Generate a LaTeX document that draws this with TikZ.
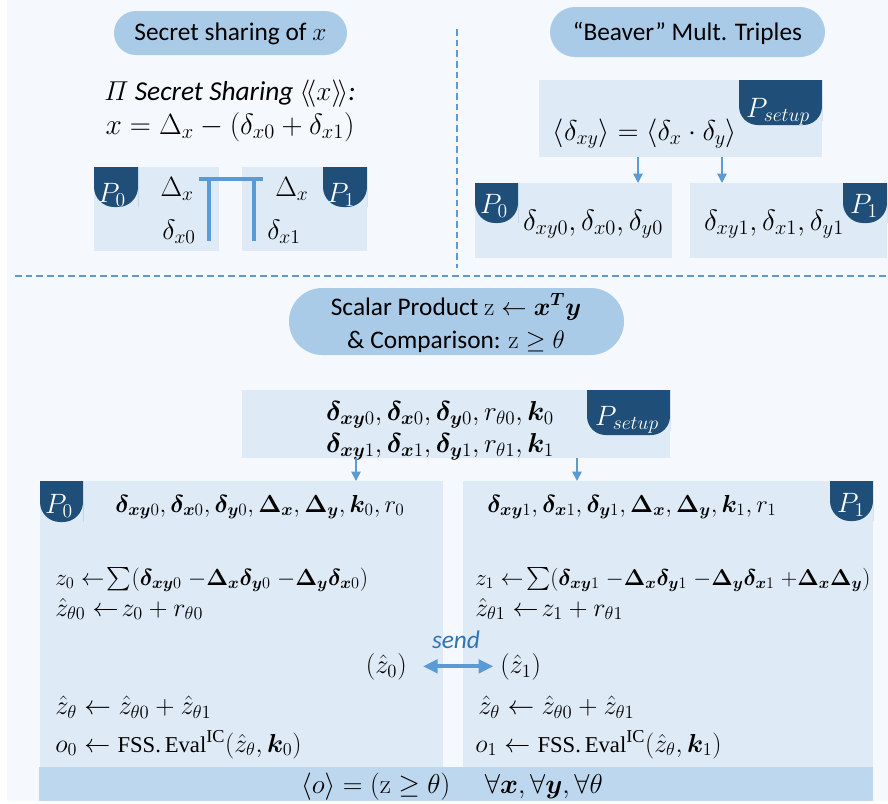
\documentclass[tikz,border=0pt]{standalone}
\usepackage{fix-cm}
\usepackage{amsmath,amssymb}
\usepackage{bm}
\usepackage[no-math]{fontspec}
\setmainfont{Carlito}
\newfontfamily\lserif{Liberation Serif}
\usetikzlibrary{arrows.meta}
\definecolor{bgc}{HTML}{F5F9FD}
\definecolor{pillc}{HTML}{A9CBE8}
\definecolor{boxc}{HTML}{DEEAF6}
\definecolor{tabc}{HTML}{1F4E79}
\definecolor{barc}{HTML}{BDD7EE}
\definecolor{linec}{HTML}{5B9BD5}
\definecolor{sendc}{HTML}{2E75B6}
\newcommand\mybd{\bm{\delta}}
\newcommand\mybD{\bm{\Delta}}
\newcommand\tm{\;{-}}
\newcommand\tp{\;{+}}
\newcommand\fsseval{\text{\lserif\fontsize{17}{17}\selectfont FSS.\,Eval}^{\text{\lserif IC}}}
\newcommand\mytab[5]{\fill[tabc] (#1,#2) -- (#1,{(#2+#4)/2}) [rounded corners=#5] -- (#1,#4) -- (#3,#4) -- (#3,{(#2+#4)/2}) [sharp corners] -- (#3,#2) -- cycle;}
\tikzset{
  sz/.style 2 args={minimum width=#1*0.75pt, minimum height=#2*0.75pt, inner sep=0pt, outer sep=0pt},
  box/.style={fill=boxc},
  pillst/.style={fill=pillc, rounded corners=#1},
  tabt/.style={text=white, inner sep=0pt, font=\fontsize{21}{21}\selectfont},
  ptxt/.style={inner sep=0pt, font=\fontsize{19}{23}\selectfont},
  mth/.style={inner sep=0pt, font=\fontsize{#1}{#1}\selectfont},
  thinarr/.style={draw=linec, line width=1.1pt, -{Triangle[length=7pt,width=7pt]}},
  sendarr/.style={draw=linec, line width=3pt, {Triangle[length=11pt,width=10pt]}-{Triangle[length=11pt,width=10pt]}}
}
\begin{document}
\begin{tikzpicture}[x=0.75pt,y=-0.75pt]
\useasboundingbox (0,0) rectangle (888,803);
\fill[white] (0,0) rectangle (888,803);
\fill[bgc] (7,0) rectangle (888,801);

% dashed separators
\draw[linec, line width=1.3pt, dash pattern=on 5pt off 3pt] (15,276) -- (888,276);
\draw[linec, line width=1.3pt, dash pattern=on 5pt off 3pt] (457,29) -- (457,268);

% ---------- top left ----------
\node[pillst=16.5pt, sz={233}{44}] (pillA) at (230.5,33) {};
\node[ptxt, anchor=base] (pillAt) at (230.5,40) {Secret sharing of $x$};
\node[inner sep=0pt, font=\fontsize{20.5}{24}\selectfont, anchor=base] (ssA) at (230,100) {\itshape $\varPi$ Secret Sharing $\langle\!\langle x\rangle\!\rangle$:};
\node[mth=22, anchor=base] (ssB) at (230,134) {$x=\Delta_x-(\delta_{x0}+\delta_{x1})$};
\node[box, sz={125}{84}] (ssP0) at (156.5,209) {};
\node[box, sz={125}{84}] (ssP1) at (304.5,209) {};
\mytab{94}{167}{138}{207}{15pt}
\mytab{323}{167}{367}{207}{15pt}
\node[tabt, anchor=base] (ssP0t) at (112,202) {$P_0$};
\node[tabt, anchor=base] (ssP1t) at (341,202) {$P_1$};
\node[mth=21, anchor=base east] (dX0) at (194,196) {$\Delta_x$};
\node[mth=21, anchor=base east] (dx0) at (196,239) {$\delta_{x0}$};
\node[mth=21, anchor=base west] (dX1) at (275,196) {$\Delta_x$};
\node[mth=21, anchor=base west] (dx1) at (267,239) {$\delta_{x1}$};
\draw[linec, line width=3pt] (199,179) -- (263,179);
\draw[linec, line width=3pt] (209,179) -- (209,241);
\draw[linec, line width=3pt] (254,179) -- (254,241);

% ---------- top right ----------
\node[pillst=18.75pt, sz={275}{50}] (pillB) at (687.5,32) {};
\node[ptxt, anchor=base] (pillBt) at (687.5,40) {“Beaver” Mult. Triples};
\node[box, sz={283}{77}] (setB) at (680.5,118.5) {};
\mytab{739}{80}{822}{125}{14pt}
\node[tabt, anchor=base] (setBt) at (778,117) {$P_{setup}$};
\node[mth=21.5, anchor=base] (setBf) at (645,140) {$\langle\delta_{xy}\rangle=\langle\delta_x\cdot\delta_y\rangle$};
\node[box, sz={197}{75}] (bB0) at (573.5,220.5) {};
\node[box, sz={197}{75}] (bB1) at (788.5,220.5) {};
\mytab{475}{183}{518}{223}{15pt}
\mytab{843}{183}{887}{223}{15pt}
\node[tabt, anchor=base] (bB0t) at (494,213) {$P_0$};
\node[tabt, anchor=base] (bB1t) at (864,213) {$P_1$};
\node[mth=22, anchor=base] (bB0f) at (593,230) {$\delta_{xy0},\delta_{x0},\delta_{y0}$};
\node[mth=22, anchor=base] (bB1f) at (774,230) {$\delta_{xy1},\delta_{x1},\delta_{y1}$};
\coordinate (aB0) at (638,0);
\coordinate (aB1) at (722,0);
\draw[thinarr] (setB.south -| aB0) -- (bB0.north -| aB0);
\draw[thinarr] (setB.south -| aB1) -- (bB1.north -| aB1);

% ---------- middle ----------
\node[pillst=25pt, sz={335}{67}] (pillC) at (456.5,321.5) {};
\node[ptxt, anchor=base] (pillC1) at (456,315) {Scalar Product $\mathrm{z}\leftarrow\bm{x}^{\bm{T}}\bm{y}$};
\node[ptxt, anchor=base] (pillC2) at (456,348) {\& Comparison: $\mathrm{z}\geq\theta$};
\node[box, sz={428}{68}] (setC) at (456,424) {};
\mytab{587}{390}{670}{435}{14pt}
\node[tabt, anchor=base] (setCt) at (627,425) {$P_{setup}$};
\node[mth=20.5, anchor=base] (setC1) at (440,420) {$\mybd_{\bm{xy}0},\mybd_{\bm{x}0},\mybd_{\bm{y}0},r_{\theta0},\bm{k}_0$};
\node[mth=20.5, anchor=base] (setC2) at (440,452) {$\mybd_{\bm{xy}1},\mybd_{\bm{x}1},\mybd_{\bm{y}1},r_{\theta1},\bm{k}_1$};

% ---------- bottom ----------
\node[box, sz={403}{286}] (bL) at (241.5,624) {};
\node[box, sz={410}{286}] (bR) at (668,624) {};
\node[fill=barc, sz={834}{34}] (bar) at (456,784) {};
\coordinate (aL) at (356,0);
\coordinate (aR) at (577,0);
\draw[thinarr] (setC.south -| aL) -- (bL.north -| aL);
\draw[thinarr] (setC.south -| aR) -- (bR.north -| aR);
\mytab{40}{481}{83}{522}{15pt}
\mytab{830}{481}{873}{521}{15pt}
\node[tabt, anchor=base] (bLt) at (59,513) {$P_0$};
\node[tabt, anchor=base] (bRt) at (851,512) {$P_1$};

\node[mth=18.5, anchor=base] (L0) at (260,512) {$\mybd_{\bm{xy}0},\mybd_{\bm{x}0},\mybd_{\bm{y}0},\mybD_{\bm{x}},\mybD_{\bm{y}},\bm{k}_0,r_0$};
\node[mth=17.5, anchor=base west] (L1) at (55,585) {$z_0\leftarrow\!\sum(\mybd_{\bm{xy}0}\tm\mybD_{\bm{x}}\mybd_{\bm{y}0}\tm\mybD_{\bm{y}}\mybd_{\bm{x}0})$};
\node[mth=19.5, anchor=base west] (L2) at (55,616) {$\hat{z}_{\theta0}\leftarrow\!z_0+r_{\theta0}$};
\node[mth=20, anchor=base east] (hz0) at (407,673) {$(\hat{z}_0)$};
\node[mth=20, anchor=base west] (L3) at (55,714) {$\hat{z}_{\theta}\leftarrow\hat{z}_{\theta0}+\hat{z}_{\theta1}$};
\node[mth=19.5, anchor=base west] (L4) at (55,752) {$o_0\leftarrow\fsseval(\hat{z}_{\theta},\bm{k}_0)$};

\node[mth=18.5, anchor=base west] (R0) at (487,512) {$\mybd_{\bm{xy}1},\mybd_{\bm{x}1},\mybd_{\bm{y}1},\mybD_{\bm{x}},\mybD_{\bm{y}},\bm{k}_1,r_1$};
\node[mth=17.2, anchor=base west] (R1) at (475,585) {$z_1\leftarrow\!\sum(\mybd_{\bm{xy}1}\tm\mybD_{\bm{x}}\mybd_{\bm{y}1}\tm\mybD_{\bm{y}}\mybd_{\bm{x}1}\tp\mybD_{\bm{x}}\mybD_{\bm{y}})$};
\node[mth=19.5, anchor=base west] (R2) at (475,616) {$\hat{z}_{\theta1}\leftarrow\!z_1+r_{\theta1}$};
\node[mth=20, anchor=base west] (hz1) at (500,673) {$(\hat{z}_1)$};
\node[mth=20, anchor=base west] (R3) at (478,714) {$\hat{z}_{\theta}\leftarrow\hat{z}_{\theta0}+\hat{z}_{\theta1}$};
\node[mth=19.5, anchor=base west] (R4) at (475,752) {$o_1\leftarrow\fsseval(\hat{z}_{\theta},\bm{k}_1)$};

\draw[sendarr, shorten <=12pt, shorten >=5pt] (hz0.east) -- (hz1.west);
\node[inner sep=0pt, anchor=base, text=sendc, font=\fontsize{19}{20}\selectfont\itshape] (send) at (456,648) {send};

\node[mth=20.5, anchor=base] (barT) at (452,793) {$\langle o\rangle=(\mathrm{z}\geq\theta)\hspace{26pt}\forall\bm{x},\forall\bm{y},\forall\theta$};
\end{tikzpicture}
\end{document}
